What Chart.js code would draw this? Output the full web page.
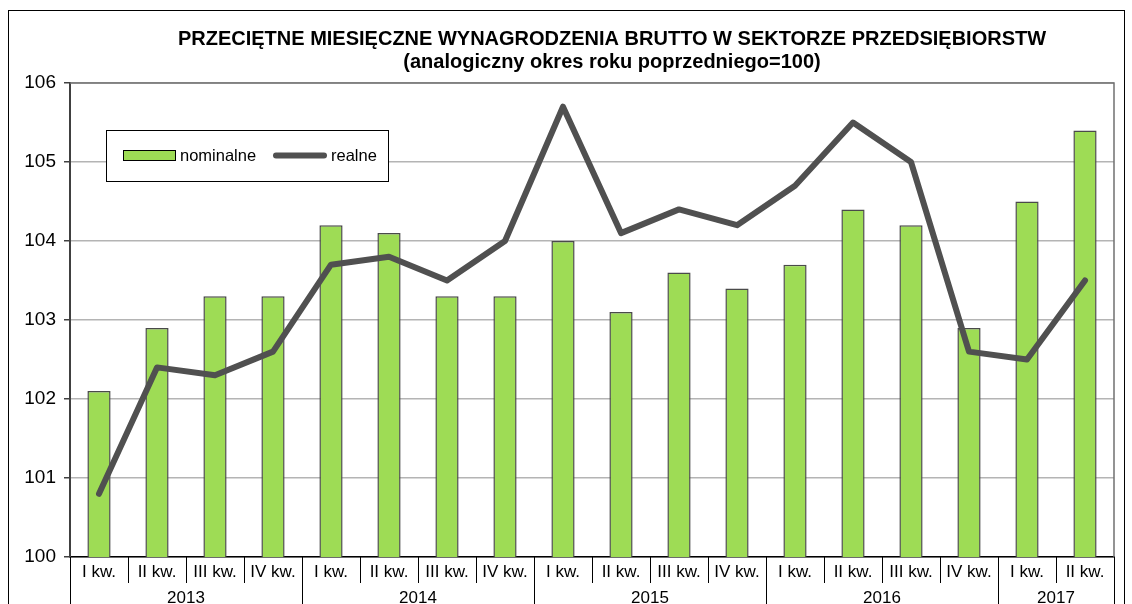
<!DOCTYPE html>
<html>
<head>
<meta charset="utf-8">
<script src="https://cdn.jsdelivr.net/npm/chart.js@4.4.1/dist/chart.umd.min.js"></script>
<style>
  body { margin: 0; background: #fff; }
  canvas { display: block; }
</style>
</head>
<body>
<canvas id="wynCHART" width="1132" height="604"></canvas>
<script>
// dane
var quarters = ['I kw.', 'II kw.', 'III kw.', 'IV kw.', 'I kw.', 'II kw.', 'III kw.', 'IV kw.',
                'I kw.', 'II kw.', 'III kw.', 'IV kw.', 'I kw.', 'II kw.', 'III kw.', 'IV kw.',
                'I kw.', 'II kw.'];
var years = ['2013', '2014', '2015', '2016', '2017'];
var yearCounts = [4, 4, 4, 4, 2];
var nominalne = [102.1, 102.9, 103.3, 103.3, 104.2, 104.1, 103.3, 103.3, 104.0, 103.1, 103.6, 103.4, 103.7, 104.4, 104.2, 102.9, 104.5, 105.4];
var realne = [100.8, 102.4, 102.3, 102.6, 103.7, 103.8, 103.5, 104.0, 105.7, 104.1, 104.4, 104.2, 104.7, 105.5, 105.0, 102.6, 102.5, 103.5];
var yTicks = [100, 101, 102, 103, 104, 105, 106];

var titleLines = ['PRZECIĘTNE MIESIĘCZNE WYNAGRODZENIA BRUTTO W SEKTORZE PRZEDSIĘBIORSTW',
                  '(analogiczny okres roku poprzedniego=100)'];

var FONT = 'Arial, "Liberation Sans", sans-serif';
var GREEN = '#9edc55';
var DARK = '#505050';

// rysowanie ramki, tytulu, legendy i osi X w dwoch poziomach
var extras = {
    id: 'extras',
    afterDraw: function (chart) {
        var ctx = chart.ctx;
        var ca = chart.chartArea;
        var xs = chart.scales.x;
        ctx.save();

        // ramka obszaru wykresu (gora, prawa)
        ctx.strokeStyle = '#707070';
        ctx.lineWidth = 1.5;
        ctx.beginPath();
        ctx.moveTo(ca.left, ca.top);
        ctx.lineTo(ca.right, ca.top);
        ctx.lineTo(ca.right, ca.bottom);
        ctx.stroke();

        // os X - kwartaly
        var step = (ca.right - ca.left) / quarters.length;
        ctx.fillStyle = '#000';
        ctx.font = '17px ' + FONT;
        ctx.textAlign = 'center';
        ctx.textBaseline = 'middle';
        quarters.forEach(function (q, i) {
            ctx.fillText(q, xs.getPixelForValue(i), ca.bottom + 15);
        });
        ctx.strokeStyle = '#000';
        ctx.lineWidth = 1;
        for (var i = 0; i <= quarters.length; i++) {
            var x = Math.round(xs.getPixelForValue(i) - step / 2) + 0.5;
            ctx.beginPath();
            ctx.moveTo(x, ca.bottom);
            ctx.lineTo(x, ca.bottom + 26);
            ctx.stroke();
        }
        // lata
        var start = 0;
        years.forEach(function (y, k) {
            var first = xs.getPixelForValue(start) - step / 2;
            var last = xs.getPixelForValue(start + yearCounts[k] - 1) + step / 2;
            ctx.fillText(y, (first + last) / 2, ca.bottom + 41);
            [first, last].forEach(function (xx) {
                var px = Math.round(xx) + 0.5;
                ctx.beginPath();
                ctx.moveTo(px, ca.bottom);
                ctx.lineTo(px, chart.height);
                ctx.stroke();
            });
            start += yearCounts[k];
        });

        // tytul
        ctx.font = 'bold 20px ' + FONT;
        ctx.fillText(titleLines[0], 612, 39);
        ctx.fillText(titleLines[1], 612, 62);

        // legenda
        ctx.fillStyle = '#fff';
        ctx.fillRect(106, 130, 282, 51);
        ctx.strokeStyle = '#000';
        ctx.lineWidth = 1;
        ctx.strokeRect(106.5, 130.5, 282, 51);
        ctx.fillStyle = GREEN;
        ctx.fillRect(123, 150, 53, 11);
        ctx.strokeRect(123.5, 150.5, 52, 10);
        ctx.fillStyle = '#000';
        ctx.font = '16.5px ' + FONT;
        ctx.textAlign = 'left';
        ctx.fillText('nominalne', 180, 156);
        ctx.strokeStyle = DARK;
        ctx.lineWidth = 6;
        ctx.lineCap = 'round';
        ctx.beginPath();
        ctx.moveTo(276, 155.5);
        ctx.lineTo(324, 155.5);
        ctx.stroke();
        ctx.fillText('realne', 331, 156);

        // zewnetrzna ramka
        ctx.strokeStyle = '#000';
        ctx.lineWidth = 1;
        ctx.lineCap = 'butt';
        ctx.strokeRect(8.5, 10.5, 1116, 620);
        ctx.restore();
    }
};

var wch = document.getElementById('wynCHART');
var wynChart = new Chart(wch, {
    type: 'bar',
    data: {
        labels: quarters,
        datasets: [{
            type: 'line',
            label: 'realne',
            data: realne,
            borderColor: DARK,
            borderWidth: 6,
            pointRadius: 0,
            tension: 0,
            borderCapStyle: 'round',
            borderJoinStyle: 'round',
            order: 0
        }, {
            type: 'bar',
            label: 'nominalne',
            data: nominalne,
            backgroundColor: GREEN,
            borderColor: '#4a4a4a',
            borderWidth: 1.5,
            barPercentage: 0.4,
            categoryPercentage: 1,
            order: 1
        }]
    },
    options: {
        responsive: false,
        animation: false,
        layout: {
            padding: { top: 83, right: 18, left: 0, bottom: 0 }
        },
        plugins: {
            legend: { display: false },
            title: { display: false },
            tooltip: { enabled: false }
        },
        scales: {
            x: {
                grid: { display: false },
                ticks: { display: false },
                border: { color: '#000', width: 1.5 },
                afterFit: function (scale) { scale.height = 47; }
            },
            y: {
                min: 100,
                max: 106,
                afterBuildTicks: function (scale) {
                    scale.ticks = yTicks.map(function (v) { return { value: v }; });
                },
                ticks: {
                    color: '#000',
                    padding: 8,
                    font: { family: FONT, size: 19 }
                },
                grid: {
                    color: '#b4b4b4',
                    lineWidth: 1.5,
                    tickLength: 6,
                    tickColor: '#404040'
                },
                border: { color: '#404040', width: 2 },
                afterFit: function (scale) { scale.width = 70; }
            }
        }
    },
    plugins: [extras]
});
</script>
</body>
</html>
